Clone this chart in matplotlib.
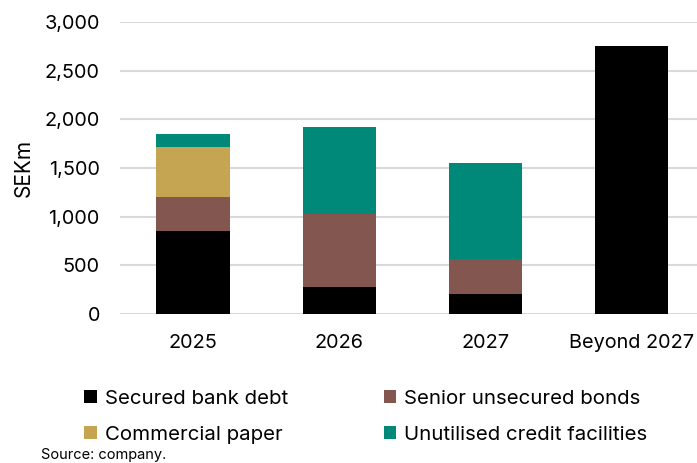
import numpy as np
import matplotlib.pyplot as plt
from matplotlib.patches import Patch

# Debt maturity profile data (SEKm)
categories = ['2025', '2026', '2027', 'Beyond 2027']
secured_bank_debt = [850, 280, 210, 2750]
senior_unsecured_bonds = [350, 750, 350, 0]
commercial_paper = [520, 0, 0, 0]
unutilised_credit = [130, 890, 990, 0]

series_names = ['Secured bank debt', 'Senior unsecured bonds',
                'Commercial paper', 'Unutilised credit facilities']
colors = ['#000000', '#835750', '#C5A552', '#008878']

plt.rcParams['font.family'] = ['Inter', 'DejaVu Sans']

fig = plt.figure(figsize=(6.97, 4.63), dpi=100)
ax = fig.add_axes([0.172, 0.3218, 0.8395, 0.6307])

x = np.arange(len(categories))
bottom = np.zeros(len(categories))
for vals, col in zip([secured_bank_debt, senior_unsecured_bonds,
                      commercial_paper, unutilised_credit], colors):
    ax.bar(x, vals, width=0.5, bottom=bottom, color=col, zorder=3)
    bottom += np.array(vals)

ax.set_xlim(-0.5, 3.5)
ax.set_ylim(0, 3000)
ax.set_yticks(np.arange(0, 3001, 500))
ax.set_yticklabels([f'{v:,}' for v in range(0, 3001, 500)])
ax.set_xticks(x)
ax.set_xticklabels(categories)
ax.tick_params(axis='both', length=0, labelsize=14.3, colors='#000000')
ax.tick_params(axis='y', pad=14.4)
ax.tick_params(axis='x', pad=14.5)
ax.grid(axis='y', color='#d9d9d9', linewidth=1.5, zorder=0)
for s in ax.spines.values():
    s.set_visible(False)
ax.set_ylabel('SEKm', fontsize=15, labelpad=7.5)

# legend fills column-wise, so order entries to read row by row
order = [0, 2, 1, 3]
handles = [Patch(facecolor=colors[i], edgecolor='none') for i in order]
labels = [series_names[i] for i in order]
fig.legend(handles, labels, loc='upper left', bbox_to_anchor=(0.121, 0.158),
           ncol=2, frameon=False, fontsize=14.7, handlelength=0.6,
           handleheight=0.6, handletextpad=0.4, columnspacing=4.7,
           labelspacing=0.88, borderaxespad=0, borderpad=0)

fig.text(0.059, 0.002, 'Source: company.', fontsize=10.5, va='bottom')

fig.savefig('out.png', dpi=100)
